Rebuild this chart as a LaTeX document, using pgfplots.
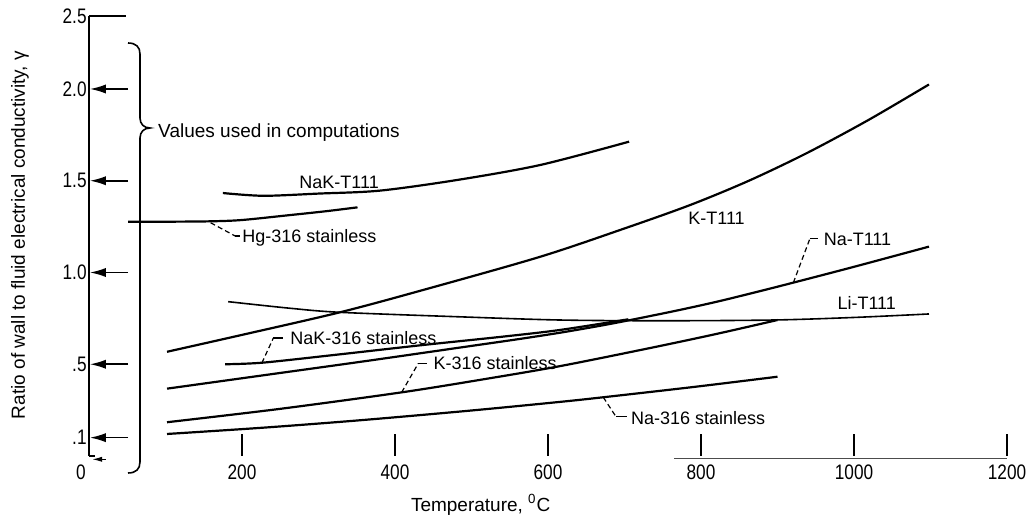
\documentclass[border=0pt]{standalone}
\usepackage{fontspec}
\setmainfont{Liberation Sans}
\newfontfamily\tickfont[FakeStretch=0.82]{Liberation Sans}
\usepackage{pgfplots}
\pgfplotsset{compat=1.18}
\usetikzlibrary{arrows.meta}

\pgfplotstableread{
x y
175 1.433
228 1.418
300 1.430
380 1.446
481 1.504
590 1.586
706 1.713
}\nakttt
\pgfplotstableread{
x y
51 1.277
110 1.277
160 1.279
200 1.286
263 1.313
310 1.334
351 1.355
}\hgss
\pgfplotstableread{
x y
102 0.568
200 0.660
328 0.783
437 0.905
590 1.086
700 1.240
786 1.368
862 1.499
938 1.650
1018 1.829
1098 2.031
}\kttt
\pgfplotstableread{
x y
182 0.841
263 0.805
328 0.783
481 0.759
616 0.741
750 0.737
894 0.741
1000 0.755
1098 0.774
}\littt
\pgfplotstableread{
x y
178 0.500
228 0.509
330 0.555
437 0.605
540 0.650
616 0.687
705 0.745
}\nakss
\pgfplotstableread{
x y
102 0.367
230 0.441
363 0.518
500 0.600
560 0.636
616 0.672
670 0.711
716 0.748
770 0.794
821 0.841
870 0.891
920 0.944
1000 1.031
1098 1.141
}\nattt
\pgfplotstableread{
x y
102 0.184
250 0.257
409 0.347
520 0.421
616 0.490
733 0.588
820 0.665
900 0.741
}\kss
\pgfplotstableread{
x y
102 0.120
230 0.155
358 0.196
500 0.248
616 0.295
672 0.320
790 0.376
900 0.432
}\nass

\begin{document}
\begin{tikzpicture}
\begin{axis}[
  scale only axis, width=459pt, height=220pt,
  xmin=0, xmax=1200, ymin=0, ymax=2.5,
  y coord trafo/.code={\pgfmathparse{#1>2 ? 2+(#1-2)*0.7956 : #1}},
  axis x line*=bottom, axis y line*=left,
  x axis line style={draw=none},
  y axis line style={-, line width=0.95pt},
  tick align=inside,
  xtick={200,400,600,800,1000,1200},
  xticklabels={200,400,600,800,1000,1200},
  major tick length=11pt,
  xtick style={line width=0.95pt, black},
  ytick={0.1,0.5,1,1.5,2,2.5},
  yticklabels={.1,.5,1.0,1.5,2.0,2.5},
  ytick style={draw=none},
  ticklabel style={font=\tickfont\fontsize{10.5}{12}\selectfont},
  xticklabel style={inner sep=1pt, yshift=-3pt},
  yticklabel style={inner sep=1pt},
  /pgf/number format/assume math mode=true,
  clip=false,
  curve/.style={line width=1.1pt, black, solid, smooth, no marks},
]
\addplot[curve] table {\nakttt};
\addplot[curve] table {\hgss};
\addplot[curve] table {\kttt};
\addplot[curve, line width=0.8pt] table {\littt};
\addplot[curve] table {\nakss};
\addplot[curve] table {\nattt};
\addplot[curve] table {\kss};
\addplot[curve] table {\nass};

\coordinate (O) at (axis cs:0,0);

% y-axis arrows (values used in computations)
\tikzset{varrow/.style={-{Latex[length=8pt,width=4.6pt]}, line width=0.8pt}}
\draw[varrow] (axis cs:51,2) -- (axis cs:1.2,2);
\draw[varrow] (axis cs:51,1.5) -- (axis cs:1.2,1.5);
\draw[varrow] (axis cs:51,1) -- (axis cs:1.2,1);
\draw[varrow] (axis cs:51,0.5) -- (axis cs:1.2,0.5);
\draw[varrow] (axis cs:51,0.1) -- (axis cs:1.2,0.1);
\draw[line width=0.8pt] (axis cs:0,2.5) -- (axis cs:48,2.5);
\draw[line width=0.8pt] (axis cs:0,0) -- (axis cs:8,0);
\draw[-{Latex[length=5pt,width=2.6pt]}, line width=0.6pt] (axis cs:22,-0.018) -- (axis cs:4,-0.018);
\node[font=\tickfont\fontsize{10.5}{12}\selectfont] at ([xshift=-4pt,yshift=-8pt]axis cs:0,0) {0};

% partial x axis line
\draw[black!70, line width=0.6pt] (axis cs:765,-0.012) -- (axis cs:1200,-0.012);

% leaders
\tikzset{lead/.style={line width=0.6pt, dash pattern=on 2.5pt off 1.6pt}}
\draw[lead] (axis cs:159,1.271) -- (axis cs:191,1.199);
\draw[line width=0.6pt] (axis cs:191,1.199) -- (axis cs:198,1.199);
\draw[lead] (axis cs:226,0.507) -- (axis cs:241,0.643);
\draw[line width=0.6pt] (axis cs:241,0.643) -- (axis cs:253,0.643);
\draw[lead] (axis cs:408.7,0.347) -- (axis cs:430.5,0.505);
\draw[line width=0.6pt] (axis cs:430.5,0.505) -- (axis cs:442,0.505);
\draw[lead] (axis cs:920.7,0.944) -- (axis cs:942.5,1.186);
\draw[line width=0.6pt] (axis cs:942.5,1.186) -- (axis cs:953,1.186);
\draw[lead] (axis cs:672.3,0.320) -- (axis cs:688.9,0.214);
\draw[line width=0.6pt] (axis cs:688.9,0.214) -- (axis cs:703.7,0.214);

% curve labels
\tikzset{lab/.style={font=\fontsize{9}{11}\selectfont, inner sep=0pt}}
\node[lab, anchor=base] at (axis cs:327,1.460) {NaK-T111};
\node[lab, anchor=base west] at (axis cs:200,1.161) {Hg-316 stainless};
\node[lab, anchor=base west] at (axis cs:783,1.259) {K-T111};
\node[lab, anchor=base west] at (axis cs:960,1.146) {Na-T111};
\node[lab, anchor=base west] at (axis cs:978,0.796) {Li-T111};
\node[lab, anchor=base west] at (axis cs:262.7,0.610) {NaK-316 stainless};
\node[lab, anchor=base west] at (axis cs:450,0.474) {K-316 stainless};
\node[lab, anchor=base west] at (axis cs:708,0.173) {Na-316 stainless};
\node[font=\fontsize{9.5}{11}\selectfont, inner sep=0pt, anchor=base west] at (axis cs:90,1.735) {Values used in computations};

% axis titles
\node[rotate=90, font=\fontsize{9.5}{11}\selectfont] at ([xshift=-34.5pt]axis cs:0,1.204) {Ratio of wall to fluid electrical conductivity, γ};
\node[font=\fontsize{9.5}{11}\selectfont] at ([yshift=-24.5pt]axis cs:512,0) {Temperature, \textsuperscript{0}C};
\end{axis}

% brace
\begin{scope}[shift={(O)}, x=0.5pt, y=-0.5pt]
\draw[line width=0.8pt] (39,-413) .. controls (47,-413) and (51,-409) .. (51,-402) -- (51,-338) .. controls (51,-332) and (55,-328) .. (61,-328) .. controls (55,-328) and (51,-324) .. (51,-318) -- (51,6) .. controls (51,13) and (47,17) .. (39,17);
\end{scope}

\pgfresetboundingbox
\path[shift={(O)}, x=0.5pt, y=-0.5pt] (-89,-456) rectangle (939,62);
\end{tikzpicture}
\end{document}
